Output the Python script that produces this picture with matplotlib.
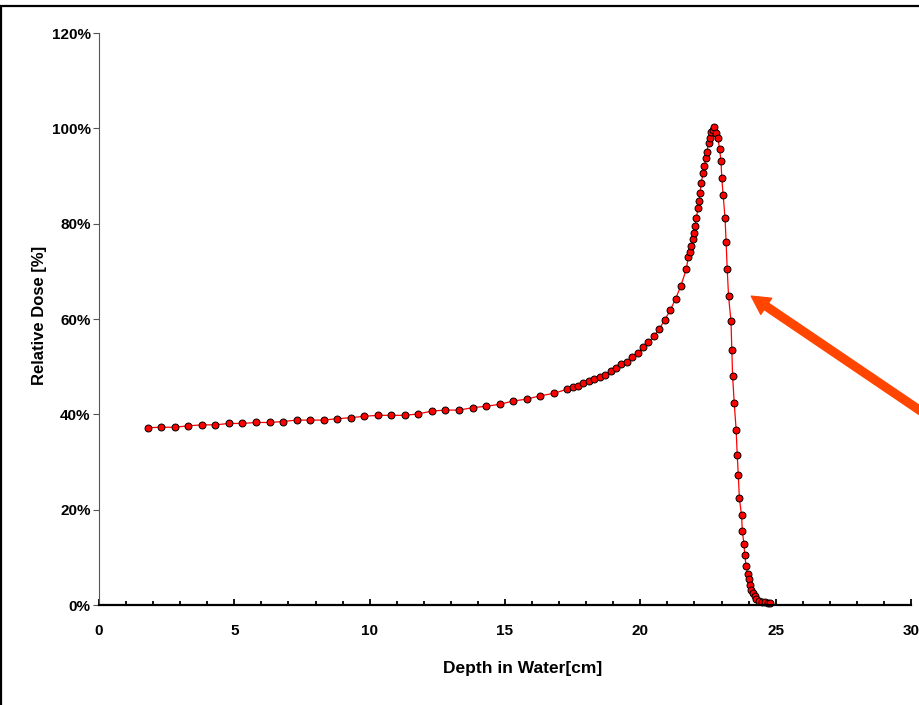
import numpy as np
import matplotlib
matplotlib.use("Agg")
import matplotlib.pyplot as plt
from matplotlib.ticker import MultipleLocator, FuncFormatter
from matplotlib.patches import Rectangle

plt.rcParams['font.family'] = ['Liberation Sans', 'DejaVu Sans']

# depth-dose curve
depth_cm = [1.8, 2.3, 2.8, 3.3, 3.8, 4.3, 4.8, 5.3, 5.8, 6.3, 6.8, 7.3, 7.8, 8.3,
            8.8, 9.3, 9.8, 10.3, 10.8, 11.3, 11.8, 12.3, 12.8, 13.3, 13.8, 14.3,
            14.8, 15.3, 15.8, 16.3, 16.8, 17.3, 17.5, 17.7, 17.9, 18.1, 18.3,
            18.5, 18.7, 18.9, 19.1, 19.3, 19.5, 19.7, 19.9, 20.1, 20.3, 20.5,
            20.7, 20.9, 21.1, 21.3, 21.5, 21.7, 21.77, 21.82, 21.89, 21.93,
            21.98, 22.02, 22.07, 22.13, 22.17, 22.21, 22.25, 22.32, 22.37, 22.42,
            22.46, 22.52, 22.57, 22.60, 22.68, 22.74, 22.80, 22.87, 22.93, 22.98,
            23.01, 23.06, 23.13, 23.17, 23.21, 23.26, 23.35, 23.38, 23.41, 23.47,
            23.54, 23.58, 23.62, 23.66, 23.74, 23.77, 23.83, 23.86, 23.91, 23.96,
            24.00, 24.06, 24.10, 24.16, 24.22, 24.29, 24.39, 24.51, 24.61, 24.70,
            24.78]
dose_pct = [37.2, 37.3, 37.3, 37.6, 37.8, 37.8, 38.1, 38.1, 38.3, 38.3, 38.5, 38.8,
            38.8, 38.8, 39.1, 39.3, 39.6, 39.8, 39.8, 39.8, 40.1, 40.7, 40.9, 40.9,
            41.4, 41.7, 42.1, 42.8, 43.2, 43.9, 44.4, 45.3, 45.7, 46.0, 46.5, 47.0,
            47.4, 47.8, 48.2, 49.1, 49.8, 50.5, 51.0, 52.0, 52.8, 54.1, 55.1, 56.4,
            57.9, 59.8, 61.8, 64.2, 67.0, 70.5, 73.0, 74.1, 75.4, 76.7, 78.1, 79.5,
            81.2, 83.2, 84.8, 86.5, 88.6, 90.6, 92.1, 93.8, 95.1, 96.9, 97.9, 99.3,
            99.6, 100.3, 99.0, 97.9, 95.6, 93.1, 89.6, 86.0, 81.2, 76.1, 70.5, 64.8,
            59.5, 53.6, 48.0, 42.3, 36.8, 31.5, 27.2, 22.4, 18.8, 15.5, 12.7, 10.4,
            8.1, 6.6, 5.4, 4.1, 3.2, 2.5, 1.8, 1.3, 0.9, 0.7, 0.6, 0.5, 0.5]

y_ticks = [0, 20, 40, 60, 80, 100, 120]
x_ticks = [0, 5, 10, 15, 20, 25, 30]

fig = plt.figure(figsize=(9.2, 7.05), dpi=100)
ax = fig.add_axes([0.1076, 0.1418, 0.8826, 0.8113])

ax.plot(depth_cm, dose_pct, color='red', lw=0.9, marker='o', ms=5,
        mfc='red', mec='black', mew=0.7, clip_on=False)

ax.set_xlim(0, 30)
ax.set_ylim(0, 120)
ax.set_xticks(x_ticks)
ax.xaxis.set_minor_locator(MultipleLocator(1))
ax.set_yticks(y_ticks)
ax.yaxis.set_major_formatter(FuncFormatter(lambda v, p: f"{v:.0f}%"))

for side in ['top', 'right']:
    ax.spines[side].set_visible(False)
ax.spines['bottom'].set_linewidth(1.6)
ax.spines['bottom'].set_color('black')
ax.spines['left'].set_linewidth(0.8)
ax.spines['left'].set_color('#555555')

ax.tick_params(axis='x', which='major', direction='in', length=4, width=1.3,
               pad=14, labelsize=11)
ax.tick_params(axis='x', which='minor', direction='in', length=3, width=1.3)
ax.tick_params(axis='y', direction='out', length=4, width=0.8, color='#555555',
               pad=2, labelsize=11)
for lbl in ax.get_xticklabels() + ax.get_yticklabels():
    lbl.set_fontweight('bold')
    lbl.set_clip_on(False)

ax.set_xlabel('Depth in Water[cm]', fontsize=12.5, fontweight='bold')
ax.set_ylabel('Relative Dose [%]', fontsize=12, fontweight='bold')
ax.xaxis.set_label_coords(0.522, -0.098)
ax.yaxis.set_label_coords(-0.064, 0.506)

# arrow pointing at the distal fall-off
ax.annotate('', xy=(24.1, 64.8), xytext=(32.0, 34.4),
            arrowprops=dict(color='#FF4500', width=5.6, headwidth=14,
                            headlength=13, shrink=0),
            annotation_clip=False)

# frame around the whole chart
fig.patches.append(Rectangle((1.5 / 920, -0.01), 1.2, (705 - 6.5) / 705 + 0.01,
                             transform=fig.transFigure, fill=False,
                             edgecolor='black', lw=1.6))

fig.savefig('out.png', dpi=100)
